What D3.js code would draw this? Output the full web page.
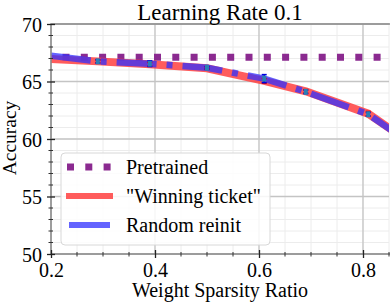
<!DOCTYPE html>
<html>
<head>
<meta charset="utf-8">
<script src="https://cdn.jsdelivr.net/npm/d3@7"></script>
<style>
  body { margin: 0; background: #fff; }
  svg text { font-family: "Liberation Serif", "Times New Roman", serif; fill: #000; }
</style>
</head>
<body>
<svg id="chart" width="390" height="304"></svg>
<script>
// values
const sparsity   = [0.2, 0.29, 0.39, 0.5, 0.61, 0.69, 0.81, 0.855];
const winning    = [66.95, 66.75, 66.5, 66.15, 65.05, 64.15, 62.2, 60.8];
const winningErr = [0.1, 0.1, 0.15, 0.1, 0.2, 0.15, 0.2, 0.2];
const randomRe   = [67.25, 66.75, 66.55, 66.2, 65.25, 64.1, 62.15, 60.75];
const randomErr  = [0.1, 0.15, 0.25, 0.1, 0.35, 0.15, 0.15, 0.2];
const pretrained = 67.1;

const xTicks = [0.2, 0.4, 0.6, 0.8];
const yTicks = [50, 55, 60, 65, 70];
const legendNames = ["Pretrained", "\"Winning ticket\"", "Random reinit"];

const svg = d3.select("#chart");
const m = {left: 51, right: 389, top: 24, bottom: 254};

const x = d3.scaleLinear().domain([0.2, 0.85]).range([m.left, m.right]);
const y = d3.scaleLinear().domain([50, 70]).range([m.bottom, m.top]);

svg.append("defs").append("clipPath").attr("id", "plotclip")
  .append("rect")
  .attr("x", m.left).attr("y", m.top)
  .attr("width", m.right - m.left).attr("height", m.bottom - m.top);

// grid: minor then major
const xMinor = d3.range(0.2, 0.851, 0.05);
const yMinor = d3.range(50, 70.01, 1);
const grid = svg.append("g");
grid.selectAll(".xm").data(xMinor).join("line")
  .attr("x1", d => x(d)).attr("x2", d => x(d))
  .attr("y1", m.top).attr("y2", m.bottom)
  .attr("stroke", "#ececec").attr("stroke-width", 1);
grid.selectAll(".ym").data(yMinor).join("line")
  .attr("x1", m.left).attr("x2", m.right)
  .attr("y1", d => y(d)).attr("y2", d => y(d))
  .attr("stroke", "#ececec").attr("stroke-width", 1);
grid.selectAll(".xM").data(xTicks).join("line")
  .attr("x1", d => x(d)).attr("x2", d => x(d))
  .attr("y1", m.top).attr("y2", m.bottom)
  .attr("stroke", "#c4c4c4").attr("stroke-width", 1.3);
grid.selectAll(".yM").data(yTicks).join("line")
  .attr("x1", m.left).attr("x2", m.right)
  .attr("y1", d => y(d)).attr("y2", d => y(d))
  .attr("stroke", "#c4c4c4").attr("stroke-width", 1.3);

// series
const plot = svg.append("g").attr("clip-path", "url(#plotclip)");

plot.append("line")
  .attr("x1", m.left).attr("x2", m.right)
  .attr("y1", y(pretrained)).attr("y2", y(pretrained))
  .attr("stroke", "#8b2a90").attr("stroke-width", 7)
  .attr("stroke-dasharray", "7,11.3").attr("stroke-dashoffset", 6.8);

const line = d3.line().x(d => x(d[0])).y(d => y(d[1]));

plot.append("path")
  .datum(d3.zip(sparsity, winning))
  .attr("d", line).attr("fill", "none")
  .attr("stroke", "#ff4040").attr("stroke-opacity", 0.85)
  .attr("stroke-width", 8);

plot.append("path")
  .datum(d3.zip(sparsity, randomRe))
  .attr("d", line).attr("fill", "none")
  .attr("stroke", "#3030ff").attr("stroke-opacity", 0.75)
  .attr("stroke-width", 6.5)
  .attr("stroke-dasharray", "40,10,6,10");

// error bars
function errorBars(vals, errs, color) {
  const g = plot.append("g").attr("stroke", color).attr("stroke-width", 1.5);
  sparsity.forEach((s, i) => {
    if (i === 0) return;
    const cx = x(s), y0 = y(vals[i] - errs[i]), y1 = y(vals[i] + errs[i]);
    g.append("line").attr("x1", cx).attr("x2", cx).attr("y1", y0).attr("y2", y1);
    g.append("line").attr("x1", cx - 2.5).attr("x2", cx + 2.5).attr("y1", y0).attr("y2", y0);
    g.append("line").attr("x1", cx - 2.5).attr("x2", cx + 2.5).attr("y1", y1).attr("y2", y1);
  });
}
errorBars(winning, winningErr, "#e00000");
errorBars(randomRe, randomErr, "#0000e0");

plot.selectAll(".mk").data(d3.zip(sparsity, randomRe).slice(1)).join("rect")
  .attr("x", d => x(d[0]) - 2).attr("y", d => y(d[1]) - 3)
  .attr("width", 4).attr("height", 6)
  .attr("fill", "#2a7fb5");

// spines
const spine = svg.append("g").attr("stroke", "#8a8a8a").attr("stroke-width", 1.5).attr("fill", "none");
spine.append("rect")
  .attr("x", m.left).attr("y", m.top)
  .attr("width", m.right - m.left + 2).attr("height", m.bottom - m.top);

// axes
const xAxis = d3.axisBottom(x).tickValues(xTicks).tickFormat(d3.format(".1f"))
  .tickSizeInner(4).tickSizeOuter(0).tickPadding(5);
const gx = svg.append("g").attr("transform", `translate(0,${m.bottom})`).call(xAxis);
gx.select(".domain").remove();
gx.selectAll("text").attr("font-size", 20).attr("dy", "0.71em");
gx.selectAll("line").attr("stroke", "#222").attr("stroke-width", 1.3).attr("y1", -4);
gx.selectAll(".minor").data(xMinor.filter(v => !xTicks.some(t => Math.abs(t - v) < 1e-6))).join("line")
  .attr("x1", d => x(d)).attr("x2", d => x(d)).attr("y1", -2).attr("y2", 2.5)
  .attr("stroke", "#333").attr("stroke-width", 1);

const yAxis = d3.axisLeft(y).tickValues(yTicks)
  .tickSizeInner(4).tickSizeOuter(0).tickPadding(5);
const gy = svg.append("g").attr("transform", `translate(${m.left},0)`).call(yAxis);
gy.select(".domain").remove();
gy.selectAll("text").attr("font-size", 20).attr("dy", "0.36em");
gy.selectAll("line").attr("stroke", "#222").attr("stroke-width", 1.3).attr("x1", 4);
gy.selectAll(".minor").data(yMinor.filter(v => v % 5 !== 0)).join("line")
  .attr("y1", d => y(d)).attr("y2", d => y(d)).attr("x1", -2.5).attr("x2", 2)
  .attr("stroke", "#333").attr("stroke-width", 1);

// titles
svg.append("text").attr("x", (m.left + m.right) / 2).attr("y", 20)
  .attr("text-anchor", "middle").attr("font-size", 23).text("Learning Rate 0.1");
svg.append("text").attr("x", (m.left + m.right) / 2).attr("y", 297)
  .attr("text-anchor", "middle").attr("font-size", 20).text("Weight Sparsity Ratio");
svg.append("text").attr("transform", "translate(16,138) rotate(-90)")
  .attr("text-anchor", "middle").attr("font-size", 19.5).text("Accuracy");

// legend
const lg = svg.append("g");
lg.append("rect").attr("x", 61).attr("y", 153).attr("width", 209).attr("height", 92)
  .attr("rx", 4).attr("fill", "#fff").attr("fill-opacity", 0.85)
  .attr("stroke", "#d8d8d8").attr("stroke-width", 1);
const rowY = [167, 196, 225];
lg.append("line").attr("x1", 66).attr("x2", 111).attr("y1", rowY[0]).attr("y2", rowY[0])
  .attr("stroke", "#8b2a90").attr("stroke-width", 7).attr("stroke-dasharray", "7,11.3")
  .attr("stroke-dashoffset", -1);
lg.append("line").attr("x1", 66).attr("x2", 113).attr("y1", rowY[1]).attr("y2", rowY[1])
  .attr("stroke", "#ff4040").attr("stroke-opacity", 0.85).attr("stroke-width", 6);
lg.append("line").attr("x1", 69).attr("x2", 110).attr("y1", rowY[2]).attr("y2", rowY[2])
  .attr("stroke", "#3030ff").attr("stroke-opacity", 0.75).attr("stroke-width", 6);
lg.selectAll(".lt").data(legendNames).join("text")
  .attr("x", 126).attr("y", (d, i) => rowY[i]).attr("dy", "0.35em")
  .attr("font-size", 20).text(d => d);
</script>
</body>
</html>
